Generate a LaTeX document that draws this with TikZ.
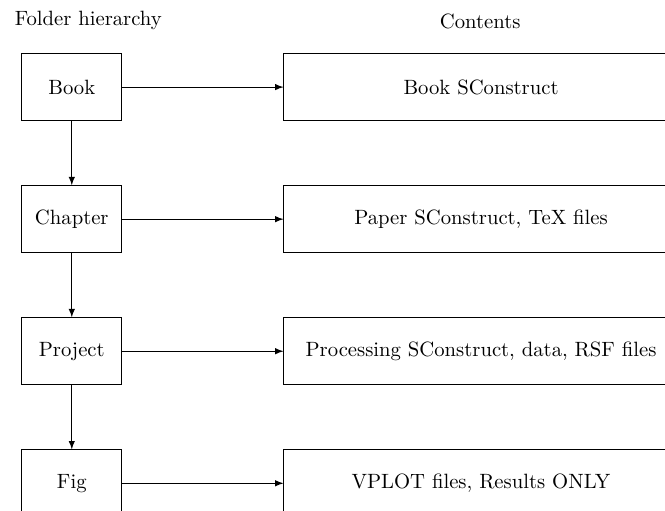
\documentclass[tikz,border=0pt]{standalone}
\usepackage{tikz}
\usetikzlibrary{positioning,arrows.meta}
\tikzset{
  levelnode/.style={draw, minimum width=1.7cm, minimum height=1.14cm, align=center},
  contentnode/.style={draw, minimum width=6.7cm, minimum height=1.14cm, align=center},
  arr/.style={-latex}
}
\begin{document}
\begin{tikzpicture}[node distance=1.09cm and 2.74cm]
  \useasboundingbox (0,0) rectangle (11.3,-8.67);
  \clip (0,0) rectangle (11.3,-8.67);

  % Headings
  \node (hierhead) at (1.5,-0.34) {Folder hierarchy};
  \node (conthead) at (8.16,-0.36) {Contents};

  % Folder levels
  \node[levelnode] (book) at (1.22,-1.48) {Book};
  \node[levelnode, below=of book] (chapter) {Chapter};
  \node[levelnode, below=of chapter] (project) {Project};
  \node[levelnode, below=of project] (fig) {Fig};

  % Contents of each level
  \node[contentnode, right=of book] (bookcont) {Book SConstruct};
  \node[contentnode, right=of chapter] (chapcont) {Paper SConstruct, TeX files};
  \node[contentnode, right=of project] (projcont) {Processing SConstruct, data, RSF files};
  \node[contentnode, right=of fig] (figcont) {VPLOT files, Results ONLY};

  % Arrows
  \draw[arr] (book) -- (chapter);
  \draw[arr] (chapter) -- (project);
  \draw[arr] (project) -- (fig);
  \draw[arr] (book) -- (bookcont);
  \draw[arr] (chapter) -- (chapcont);
  \draw[arr] (project) -- (projcont);
  \draw[arr] (fig) -- (figcont);
\end{tikzpicture}
\end{document}
